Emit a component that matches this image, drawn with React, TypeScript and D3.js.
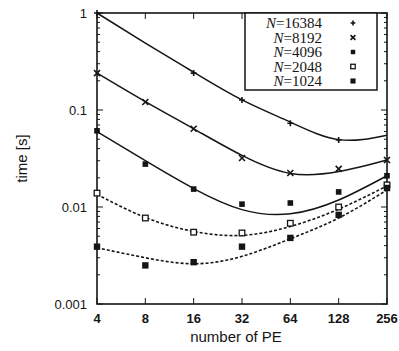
import React, { useRef, useEffect } from "react";
import * as d3 from "d3";

// number of PE on the x axis
const peCounts = [4, 8, 16, 32, 64, 128, 256];
const yTicks = [0.001, 0.01, 0.1, 1];

const seriesNames = ["N=16384", "N=8192", "N=4096", "N=2048", "N=1024"];
const seriesMarkers = ["plus", "cross", "fsquare", "osquare", "fsquare2"];
const seriesDashed = [false, false, false, true, true];

// measured points (null = not shown)
const measured16384 = [1.0, null, 0.24, 0.127, 0.073, 0.049, null];
const measured8192 = [0.24, 0.121, 0.064, 0.032, 0.0224, 0.0247, 0.0305];
const measured4096 = [0.061, 0.0277, 0.0153, 0.0107, 0.011, 0.0143, 0.021];
const measured2048 = [0.0139, 0.0077, 0.0055, 0.0054, 0.0068, 0.01, 0.0169];
const measured1024 = [0.0039, 0.0025, 0.0027, 0.0039, 0.0048, 0.0083, 0.0157];

// fitted curves, read at each PE count
const fit16384 = [1.0, 0.49, 0.245, 0.127, 0.075, 0.0495, 0.055];
const fit8192 = [0.24, 0.122, 0.064, 0.034, 0.0222, 0.0232, 0.0305];
const fit4096 = [0.06, 0.03, 0.0155, 0.0094, 0.0085, 0.0118, 0.021];
const fit2048 = [0.0135, 0.0078, 0.0056, 0.0051, 0.0063, 0.0095, 0.0165];
const fit1024 = [0.0038, 0.003, 0.0026, 0.0031, 0.0047, 0.0077, 0.015];

const measured = [measured16384, measured8192, measured4096, measured2048, measured1024];
const fits = [fit16384, fit8192, fit4096, fit2048, fit1024];

export default function App() {
  const ref = useRef<SVGSVGElement>(null);

  useEffect(() => {
    const width = 399;
    const height = 351;
    const margin = { top: 13, right: 12, bottom: 47, left: 97 };
    const ink = "#151515";

    const svg = d3.select(ref.current);
    svg.selectAll("*").remove();
    svg.attr("width", width).attr("height", height);

    const x = d3
      .scaleLog()
      .base(2)
      .domain([4, 256])
      .range([margin.left, width - margin.right]);
    const y = d3
      .scaleLog()
      .domain([0.001, 1])
      .range([height - margin.bottom, margin.top]);

    const g = svg.append("g");

    // minor y ticks on both sides
    const minor: number[] = [];
    [0.001, 0.01, 0.1].forEach((d) => {
      for (let k = 2; k <= 9; k++) minor.push(d * k);
    });
    const [x0, x1] = x.range();
    const [yb, yt] = y.range();
    minor.forEach((v) => {
      g.append("line").attr("x1", x0).attr("x2", x0 + 3).attr("y1", y(v)).attr("y2", y(v)).attr("stroke", ink);
      g.append("line").attr("x1", x1).attr("x2", x1 - 3).attr("y1", y(v)).attr("y2", y(v)).attr("stroke", ink);
    });
    yTicks.forEach((v) => {
      g.append("line").attr("x1", x0).attr("x2", x0 + 6).attr("y1", y(v)).attr("y2", y(v)).attr("stroke", ink);
      g.append("line").attr("x1", x1).attr("x2", x1 - 6).attr("y1", y(v)).attr("y2", y(v)).attr("stroke", ink);
      g.append("text")
        .attr("x", x0 - 10)
        .attr("y", y(v))
        .attr("dy", "0.35em")
        .attr("text-anchor", "end")
        .attr("font-family", "Liberation Sans, Arial, sans-serif")
        .attr("font-size", 13)
        .attr("fill", ink)
        .text(String(v));
    });
    peCounts.forEach((p) => {
      g.append("line").attr("x1", x(p)).attr("x2", x(p)).attr("y1", yb).attr("y2", yb - 6).attr("stroke", ink);
      g.append("line").attr("x1", x(p)).attr("x2", x(p)).attr("y1", yt).attr("y2", yt + 6).attr("stroke", ink);
      g.append("text")
        .attr("x", x(p))
        .attr("y", yb + 19)
        .attr("text-anchor", "middle")
        .attr("font-family", "Liberation Sans, Arial, sans-serif")
        .attr("font-size", 13)
        .attr("font-weight", "bold")
        .attr("fill", ink)
        .text(String(p));
    });

    // frame
    g.append("rect")
      .attr("x", x0)
      .attr("y", yt)
      .attr("width", x1 - x0)
      .attr("height", yb - yt)
      .attr("fill", "none")
      .attr("stroke", ink)
      .attr("stroke-width", 1.6);

    // axis titles
    g.append("text")
      .attr("x", (x0 + x1) / 2 - 6)
      .attr("y", 342)
      .attr("text-anchor", "middle")
      .attr("font-family", "Liberation Sans, Arial, sans-serif")
      .attr("font-size", 15)
      .attr("fill", ink)
      .text("number of PE");
    g.append("text")
      .attr("transform", `translate(27,${(yt + yb) / 2}) rotate(-90)`)
      .attr("text-anchor", "middle")
      .attr("font-family", "Liberation Sans, Arial, sans-serif")
      .attr("font-size", 15)
      .attr("fill", ink)
      .text("time [s]");

    // fitted curves
    const line = d3
      .line<number>()
      .x((d, i) => x(peCounts[i]))
      .y((d) => y(d))
      .curve(d3.curveNatural);
    fits.forEach((f, si) => {
      g.append("path")
        .attr("d", line(f))
        .attr("fill", "none")
        .attr("stroke", ink)
        .attr("stroke-width", seriesDashed[si] ? 1.6 : 1.5)
        .attr("stroke-dasharray", seriesDashed[si] ? "3,2" : null);
    });

    const drawMarker = (sel: any, kind: string, cx: number, cy: number, s = 1) => {
      if (kind === "plus") {
        sel.append("path").attr("d", `M${cx - 3 * s},${cy}H${cx + 3 * s}M${cx},${cy - 3 * s}V${cy + 3 * s}`).attr("stroke", ink).attr("stroke-width", 1.6);
      } else if (kind === "cross") {
        sel.append("path").attr("d", `M${cx - 3 * s},${cy - 3 * s}L${cx + 3 * s},${cy + 3 * s}M${cx - 3 * s},${cy + 3 * s}L${cx + 3 * s},${cy - 3 * s}`).attr("stroke", ink).attr("stroke-width", 1.6);
      } else if (kind === "fsquare") {
        sel.append("rect").attr("x", cx - 2.8 * s).attr("y", cy - 2.8 * s).attr("width", 5.6 * s).attr("height", 5.6 * s).attr("fill", ink);
      } else if (kind === "osquare") {
        sel.append("rect").attr("x", cx - 2.8 * s).attr("y", cy - 2.8 * s).attr("width", 5.6 * s).attr("height", 5.6 * s).attr("fill", "white").attr("stroke", ink).attr("stroke-width", 1.3);
      } else {
        sel.append("rect").attr("x", cx - 3.2 * s).attr("y", cy - 3.2 * s).attr("width", 6.4 * s).attr("height", 6.4 * s).attr("fill", ink);
      }
    };

    measured.forEach((vals, si) => {
      vals.forEach((v, i) => {
        if (v == null) return;
        drawMarker(g, seriesMarkers[si], x(peCounts[i]), y(v));
      });
    });

    // legend
    const lx0 = 245;
    const lx1 = 377;
    const ly1 = 90;
    g.append("rect")
      .attr("x", lx0)
      .attr("y", yt)
      .attr("width", lx1 - lx0)
      .attr("height", ly1 - yt)
      .attr("fill", "white")
      .attr("stroke", ink)
      .attr("stroke-width", 1.5);
    seriesNames.forEach((name, i) => {
      const ry = 23 + i * 14.5;
      const t = g
        .append("text")
        .attr("x", 322)
        .attr("y", ry)
        .attr("dy", "0.35em")
        .attr("text-anchor", "end")
        .attr("font-family", "Liberation Serif, Times New Roman, serif")
        .attr("font-size", 15)
        .attr("fill", ink);
      t.append("tspan").attr("font-style", "italic").text("N");
      t.append("tspan").text(name.slice(1));
      drawMarker(g, seriesMarkers[i], 353, ry, 0.8);
    });
  }, []);

  return <svg ref={ref} style={{ position: "absolute", left: 0, top: 0, background: "white" }}></svg>;
}
